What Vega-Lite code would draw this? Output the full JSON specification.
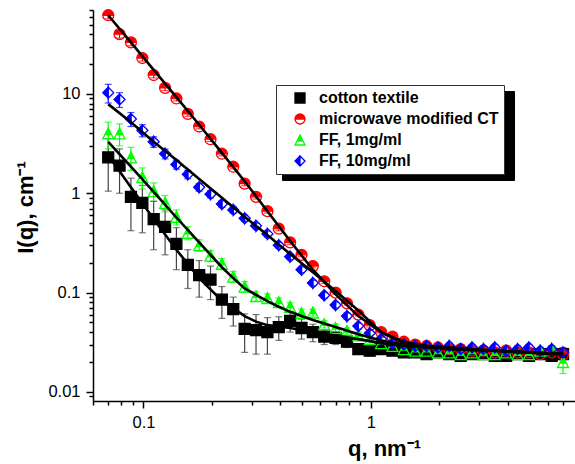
{
  "$schema": "https://vega.github.io/schema/vega-lite/v6.json",
  "width": 482,
  "height": 391,
  "autosize": {"type": "none"},
  "padding": {"left": 93, "top": 10, "right": 0, "bottom": 63},
  "background": "white",
  "config": {
    "view": {"stroke": null},
    "font": "Liberation Sans",
    "axis": {
      "grid": false,
      "domainColor": "black",
      "domainWidth": 1.5,
      "tickColor": "black",
      "tickWidth": 1.5,
      "labelFont": "Liberation Sans",
      "labelFontSize": 16.5,
      "labelColor": "black",
      "titleFont": "Liberation Sans",
      "titleFontSize": 22,
      "titleFontWeight": "bold",
      "titleColor": "black",
      "labelOverlap": false,
      "labelFlush": false
    },
    "legend": {
      "labelFont": "Liberation Sans",
      "labelFontSize": 16,
      "labelFontWeight": "bold",
      "labelColor": "black",
      "labelLimit": 400,
      "symbolSize": 100,
      "symbolStrokeWidth": 1.3,
      "padding": 5,
      "rowPadding": 5,
      "symbolOffset": 11,
      "labelOffset": 11,
      "cornerRadius": 0
    }
  },
  "datasets": {
    "pts": [
      {"s":"cotton textile","q":0.07,"I":2.3,"e":1.25},
      {"s":"cotton textile","q":0.0785,"I":1.9,"e":0.9},
      {"s":"cotton textile","q":0.0881,"I":0.92,"e":0.5},
      {"s":"cotton textile","q":0.0989,"I":0.8,"e":0.4},
      {"s":"cotton textile","q":0.1109,"I":0.55,"e":0.28},
      {"s":"cotton textile","q":0.1245,"I":0.46,"e":0.22},
      {"s":"cotton textile","q":0.1396,"I":0.31,"e":0.14},
      {"s":"cotton textile","q":0.1567,"I":0.19,"e":0.08},
      {"s":"cotton textile","q":0.1758,"I":0.15,"e":0.06},
      {"s":"cotton textile","q":0.1972,"I":0.135,"e":0.05},
      {"s":"cotton textile","q":0.2213,"I":0.085,"e":0.03},
      {"s":"cotton textile","q":0.2483,"I":0.068,"e":0.022},
      {"s":"cotton textile","q":0.2786,"I":0.043,"e":0.018},
      {"s":"cotton textile","q":0.3126,"I":0.042,"e":0.018},
      {"s":"cotton textile","q":0.3508,"I":0.04,"e":0.016},
      {"s":"cotton textile","q":0.3936,"I":0.045,"e":0.012},
      {"s":"cotton textile","q":0.4416,"I":0.052,"e":0.012},
      {"s":"cotton textile","q":0.4955,"I":0.044,"e":0.01},
      {"s":"cotton textile","q":0.5559,"I":0.04,"e":0.008},
      {"s":"cotton textile","q":0.6237,"I":0.036,"e":0.006},
      {"s":"cotton textile","q":0.6998,"I":0.035,"e":0.005},
      {"s":"cotton textile","q":0.7852,"I":0.032,"e":0.004},
      {"s":"cotton textile","q":0.881,"I":0.027,"e":0.003},
      {"s":"cotton textile","q":0.9886,"I":0.026,"e":0.003},
      {"s":"cotton textile","q":1.1092,"I":0.027,"e":0.003},
      {"s":"cotton textile","q":1.2445,"I":0.026,"e":0.002},
      {"s":"cotton textile","q":1.3964,"I":0.025,"e":0.002},
      {"s":"cotton textile","q":1.5668,"I":0.025,"e":0.002},
      {"s":"cotton textile","q":1.7579,"I":0.024,"e":0.002},
      {"s":"cotton textile","q":1.9724,"I":0.025,"e":0.002},
      {"s":"cotton textile","q":2.2131,"I":0.024,"e":0.002},
      {"s":"cotton textile","q":2.4831,"I":0.023,"e":0.002},
      {"s":"cotton textile","q":2.7861,"I":0.024,"e":0.002},
      {"s":"cotton textile","q":3.1261,"I":0.024,"e":0.002},
      {"s":"cotton textile","q":3.5075,"I":0.023,"e":0.002},
      {"s":"cotton textile","q":3.9355,"I":0.023,"e":0.002},
      {"s":"cotton textile","q":4.4157,"I":0.024,"e":0.002},
      {"s":"cotton textile","q":4.9545,"I":0.023,"e":0.002},
      {"s":"cotton textile","q":5.559,"I":0.024,"e":0.002},
      {"s":"cotton textile","q":6.2373,"I":0.023,"e":0.002},
      {"s":"cotton textile","q":6.9984,"I":0.024,"e":0.002},
      {"s":"microwave modified CT","q":0.07,"I":62,"e":5},
      {"s":"microwave modified CT","q":0.0785,"I":40,"e":3.5},
      {"s":"microwave modified CT","q":0.0881,"I":33,"e":2.5},
      {"s":"microwave modified CT","q":0.0989,"I":23,"e":1.6},
      {"s":"microwave modified CT","q":0.1109,"I":15.5,"e":1.0},
      {"s":"microwave modified CT","q":0.1245,"I":11.5,"e":0.7},
      {"s":"microwave modified CT","q":0.1396,"I":9.0,"e":0.5},
      {"s":"microwave modified CT","q":0.1567,"I":6.3,"e":0.35},
      {"s":"microwave modified CT","q":0.1758,"I":4.7,"e":0.25},
      {"s":"microwave modified CT","q":0.1972,"I":3.5,"e":0.18},
      {"s":"microwave modified CT","q":0.2213,"I":2.5,"e":0.12},
      {"s":"microwave modified CT","q":0.2483,"I":1.85,"e":0.09},
      {"s":"microwave modified CT","q":0.2786,"I":1.25,"e":0.06},
      {"s":"microwave modified CT","q":0.3126,"I":0.92,"e":0.045},
      {"s":"microwave modified CT","q":0.3508,"I":0.66,"e":0.03},
      {"s":"microwave modified CT","q":0.3936,"I":0.44,"e":0.02},
      {"s":"microwave modified CT","q":0.4416,"I":0.32,"e":0.015},
      {"s":"microwave modified CT","q":0.4955,"I":0.24,"e":0.01},
      {"s":"microwave modified CT","q":0.5559,"I":0.185,"e":0.008},
      {"s":"microwave modified CT","q":0.6237,"I":0.13,"e":0.006},
      {"s":"microwave modified CT","q":0.6998,"I":0.1,"e":0.004},
      {"s":"microwave modified CT","q":0.7852,"I":0.078,"e":0.003},
      {"s":"microwave modified CT","q":0.881,"I":0.06,"e":0.002},
      {"s":"microwave modified CT","q":0.9886,"I":0.047,"e":0.002},
      {"s":"microwave modified CT","q":1.1092,"I":0.04,"e":0.0015},
      {"s":"microwave modified CT","q":1.2445,"I":0.036,"e":0.0015},
      {"s":"microwave modified CT","q":1.3964,"I":0.032,"e":0.0015},
      {"s":"microwave modified CT","q":1.5668,"I":0.03,"e":0.0015},
      {"s":"microwave modified CT","q":1.7579,"I":0.029,"e":0.0015},
      {"s":"microwave modified CT","q":1.9724,"I":0.028,"e":0.0015},
      {"s":"microwave modified CT","q":2.2131,"I":0.027,"e":0.0015},
      {"s":"microwave modified CT","q":2.4831,"I":0.027,"e":0.0015},
      {"s":"microwave modified CT","q":2.7861,"I":0.026,"e":0.0015},
      {"s":"microwave modified CT","q":3.1261,"I":0.026,"e":0.0015},
      {"s":"microwave modified CT","q":3.5075,"I":0.025,"e":0.0015},
      {"s":"microwave modified CT","q":3.9355,"I":0.026,"e":0.0015},
      {"s":"microwave modified CT","q":4.4157,"I":0.025,"e":0.0015},
      {"s":"microwave modified CT","q":4.9545,"I":0.025,"e":0.0015},
      {"s":"microwave modified CT","q":5.559,"I":0.024,"e":0.0015},
      {"s":"microwave modified CT","q":6.2373,"I":0.025,"e":0.0015},
      {"s":"microwave modified CT","q":6.9984,"I":0.024,"e":0.003},
      {"s":"FF, 1mg/ml","q":0.07,"I":4.0,"e":1.2},
      {"s":"FF, 1mg/ml","q":0.0785,"I":4.0,"e":1.0},
      {"s":"FF, 1mg/ml","q":0.0881,"I":2.3,"e":0.6},
      {"s":"FF, 1mg/ml","q":0.0989,"I":1.45,"e":0.35},
      {"s":"FF, 1mg/ml","q":0.1109,"I":1.05,"e":0.22},
      {"s":"FF, 1mg/ml","q":0.1245,"I":0.8,"e":0.15},
      {"s":"FF, 1mg/ml","q":0.1396,"I":0.58,"e":0.1},
      {"s":"FF, 1mg/ml","q":0.1567,"I":0.4,"e":0.06},
      {"s":"FF, 1mg/ml","q":0.1758,"I":0.3,"e":0.04},
      {"s":"FF, 1mg/ml","q":0.1972,"I":0.235,"e":0.03},
      {"s":"FF, 1mg/ml","q":0.2213,"I":0.195,"e":0.025},
      {"s":"FF, 1mg/ml","q":0.2483,"I":0.145,"e":0.018},
      {"s":"FF, 1mg/ml","q":0.2786,"I":0.115,"e":0.014},
      {"s":"FF, 1mg/ml","q":0.3126,"I":0.092,"e":0.01},
      {"s":"FF, 1mg/ml","q":0.3508,"I":0.088,"e":0.009},
      {"s":"FF, 1mg/ml","q":0.3936,"I":0.08,"e":0.008},
      {"s":"FF, 1mg/ml","q":0.4416,"I":0.072,"e":0.007},
      {"s":"FF, 1mg/ml","q":0.4955,"I":0.062,"e":0.006},
      {"s":"FF, 1mg/ml","q":0.5559,"I":0.063,"e":0.005},
      {"s":"FF, 1mg/ml","q":0.6237,"I":0.048,"e":0.004},
      {"s":"FF, 1mg/ml","q":0.6998,"I":0.044,"e":0.004},
      {"s":"FF, 1mg/ml","q":0.7852,"I":0.041,"e":0.003},
      {"s":"FF, 1mg/ml","q":0.881,"I":0.037,"e":0.003},
      {"s":"FF, 1mg/ml","q":0.9886,"I":0.034,"e":0.003},
      {"s":"FF, 1mg/ml","q":1.1092,"I":0.031,"e":0.002},
      {"s":"FF, 1mg/ml","q":1.2445,"I":0.029,"e":0.002},
      {"s":"FF, 1mg/ml","q":1.3964,"I":0.027,"e":0.002},
      {"s":"FF, 1mg/ml","q":1.5668,"I":0.026,"e":0.002},
      {"s":"FF, 1mg/ml","q":1.7579,"I":0.026,"e":0.002},
      {"s":"FF, 1mg/ml","q":1.9724,"I":0.025,"e":0.002},
      {"s":"FF, 1mg/ml","q":2.2131,"I":0.025,"e":0.002},
      {"s":"FF, 1mg/ml","q":2.4831,"I":0.024,"e":0.002},
      {"s":"FF, 1mg/ml","q":2.7861,"I":0.025,"e":0.002},
      {"s":"FF, 1mg/ml","q":3.1261,"I":0.024,"e":0.002},
      {"s":"FF, 1mg/ml","q":3.5075,"I":0.024,"e":0.002},
      {"s":"FF, 1mg/ml","q":3.9355,"I":0.025,"e":0.002},
      {"s":"FF, 1mg/ml","q":4.4157,"I":0.024,"e":0.002},
      {"s":"FF, 1mg/ml","q":4.9545,"I":0.024,"e":0.002},
      {"s":"FF, 1mg/ml","q":5.559,"I":0.026,"e":0.002},
      {"s":"FF, 1mg/ml","q":6.2373,"I":0.027,"e":0.002},
      {"s":"FF, 1mg/ml","q":6.9984,"I":0.02,"e":0.0047},
      {"s":"FF, 10mg/ml","q":0.07,"I":10.3,"e":2.2},
      {"s":"FF, 10mg/ml","q":0.0785,"I":8.8,"e":1.5},
      {"s":"FF, 10mg/ml","q":0.0881,"I":5.6,"e":0.9},
      {"s":"FF, 10mg/ml","q":0.0989,"I":4.3,"e":0.6},
      {"s":"FF, 10mg/ml","q":0.1109,"I":3.3,"e":0.4},
      {"s":"FF, 10mg/ml","q":0.1245,"I":2.5,"e":0.28},
      {"s":"FF, 10mg/ml","q":0.1396,"I":1.95,"e":0.2},
      {"s":"FF, 10mg/ml","q":0.1567,"I":1.55,"e":0.15},
      {"s":"FF, 10mg/ml","q":0.1758,"I":1.15,"e":0.1},
      {"s":"FF, 10mg/ml","q":0.1972,"I":0.98,"e":0.08},
      {"s":"FF, 10mg/ml","q":0.2213,"I":0.78,"e":0.06},
      {"s":"FF, 10mg/ml","q":0.2483,"I":0.68,"e":0.05},
      {"s":"FF, 10mg/ml","q":0.2786,"I":0.56,"e":0.04},
      {"s":"FF, 10mg/ml","q":0.3126,"I":0.47,"e":0.03},
      {"s":"FF, 10mg/ml","q":0.3508,"I":0.39,"e":0.025},
      {"s":"FF, 10mg/ml","q":0.3936,"I":0.3,"e":0.02},
      {"s":"FF, 10mg/ml","q":0.4416,"I":0.23,"e":0.015},
      {"s":"FF, 10mg/ml","q":0.4955,"I":0.17,"e":0.011},
      {"s":"FF, 10mg/ml","q":0.5559,"I":0.125,"e":0.008},
      {"s":"FF, 10mg/ml","q":0.6237,"I":0.094,"e":0.006},
      {"s":"FF, 10mg/ml","q":0.6998,"I":0.075,"e":0.005},
      {"s":"FF, 10mg/ml","q":0.7852,"I":0.058,"e":0.004},
      {"s":"FF, 10mg/ml","q":0.881,"I":0.046,"e":0.003},
      {"s":"FF, 10mg/ml","q":0.9886,"I":0.039,"e":0.003},
      {"s":"FF, 10mg/ml","q":1.1092,"I":0.034,"e":0.002},
      {"s":"FF, 10mg/ml","q":1.2445,"I":0.031,"e":0.002},
      {"s":"FF, 10mg/ml","q":1.3964,"I":0.03,"e":0.002},
      {"s":"FF, 10mg/ml","q":1.5668,"I":0.029,"e":0.002},
      {"s":"FF, 10mg/ml","q":1.7579,"I":0.029,"e":0.002},
      {"s":"FF, 10mg/ml","q":1.9724,"I":0.028,"e":0.002},
      {"s":"FF, 10mg/ml","q":2.2131,"I":0.029,"e":0.002},
      {"s":"FF, 10mg/ml","q":2.4831,"I":0.027,"e":0.002},
      {"s":"FF, 10mg/ml","q":2.7861,"I":0.028,"e":0.002},
      {"s":"FF, 10mg/ml","q":3.1261,"I":0.027,"e":0.002},
      {"s":"FF, 10mg/ml","q":3.5075,"I":0.028,"e":0.002},
      {"s":"FF, 10mg/ml","q":3.9355,"I":0.026,"e":0.002},
      {"s":"FF, 10mg/ml","q":4.4157,"I":0.027,"e":0.002},
      {"s":"FF, 10mg/ml","q":4.9545,"I":0.028,"e":0.002},
      {"s":"FF, 10mg/ml","q":5.559,"I":0.026,"e":0.002},
      {"s":"FF, 10mg/ml","q":6.2373,"I":0.027,"e":0.002},
      {"s":"FF, 10mg/ml","q":6.9984,"I":0.025,"e":0.003}
    ],
    "fit": [
      {"f":"cotton textile","q":0.07,"I":2.4},
      {"f":"cotton textile","q":0.0881,"I":1.15},
      {"f":"cotton textile","q":0.1109,"I":0.55},
      {"f":"cotton textile","q":0.1396,"I":0.27},
      {"f":"cotton textile","q":0.1758,"I":0.14},
      {"f":"cotton textile","q":0.2213,"I":0.083},
      {"f":"cotton textile","q":0.2483,"I":0.07},
      {"f":"cotton textile","q":0.2786,"I":0.058},
      {"f":"cotton textile","q":0.3126,"I":0.051},
      {"f":"cotton textile","q":0.3508,"I":0.047},
      {"f":"cotton textile","q":0.4416,"I":0.044},
      {"f":"cotton textile","q":0.5559,"I":0.04},
      {"f":"cotton textile","q":0.6998,"I":0.037},
      {"f":"cotton textile","q":0.881,"I":0.034},
      {"f":"cotton textile","q":1.1092,"I":0.031},
      {"f":"cotton textile","q":1.3964,"I":0.029},
      {"f":"cotton textile","q":2.2131,"I":0.027},
      {"f":"cotton textile","q":3.5075,"I":0.026},
      {"f":"cotton textile","q":6.9984,"I":0.024},
      {"f":"microwave modified CT","q":0.07,"I":62},
      {"f":"microwave modified CT","q":0.0881,"I":33},
      {"f":"microwave modified CT","q":0.1109,"I":17.5},
      {"f":"microwave modified CT","q":0.1396,"I":9.3},
      {"f":"microwave modified CT","q":0.1758,"I":4.9},
      {"f":"microwave modified CT","q":0.2213,"I":2.55},
      {"f":"microwave modified CT","q":0.2786,"I":1.32},
      {"f":"microwave modified CT","q":0.3508,"I":0.66},
      {"f":"microwave modified CT","q":0.4416,"I":0.33},
      {"f":"microwave modified CT","q":0.5559,"I":0.17},
      {"f":"microwave modified CT","q":0.6998,"I":0.096},
      {"f":"microwave modified CT","q":0.881,"I":0.058},
      {"f":"microwave modified CT","q":1.1092,"I":0.04},
      {"f":"microwave modified CT","q":1.3964,"I":0.032},
      {"f":"microwave modified CT","q":1.7579,"I":0.029},
      {"f":"microwave modified CT","q":2.2131,"I":0.027},
      {"f":"microwave modified CT","q":3.5075,"I":0.026},
      {"f":"microwave modified CT","q":6.9984,"I":0.024},
      {"f":"FF, 1mg/ml","q":0.07,"I":3.3},
      {"f":"FF, 1mg/ml","q":0.0881,"I":1.85},
      {"f":"FF, 1mg/ml","q":0.1109,"I":1.03},
      {"f":"FF, 1mg/ml","q":0.1396,"I":0.57},
      {"f":"FF, 1mg/ml","q":0.1758,"I":0.32},
      {"f":"FF, 1mg/ml","q":0.2213,"I":0.18},
      {"f":"FF, 1mg/ml","q":0.2483,"I":0.14},
      {"f":"FF, 1mg/ml","q":0.2786,"I":0.11},
      {"f":"FF, 1mg/ml","q":0.3126,"I":0.095},
      {"f":"FF, 1mg/ml","q":0.3508,"I":0.082},
      {"f":"FF, 1mg/ml","q":0.3936,"I":0.072},
      {"f":"FF, 1mg/ml","q":0.4416,"I":0.064},
      {"f":"FF, 1mg/ml","q":0.4955,"I":0.058},
      {"f":"FF, 1mg/ml","q":0.5559,"I":0.053},
      {"f":"FF, 1mg/ml","q":0.6998,"I":0.045},
      {"f":"FF, 1mg/ml","q":0.881,"I":0.038},
      {"f":"FF, 1mg/ml","q":1.1092,"I":0.033},
      {"f":"FF, 1mg/ml","q":1.3964,"I":0.03},
      {"f":"FF, 1mg/ml","q":2.2131,"I":0.028},
      {"f":"FF, 1mg/ml","q":3.5075,"I":0.026},
      {"f":"FF, 1mg/ml","q":6.9984,"I":0.024},
      {"f":"FF, 10mg/ml","q":0.07,"I":7.9},
      {"f":"FF, 10mg/ml","q":0.0881,"I":5.2},
      {"f":"FF, 10mg/ml","q":0.1109,"I":3.3},
      {"f":"FF, 10mg/ml","q":0.1396,"I":2.16},
      {"f":"FF, 10mg/ml","q":0.1758,"I":1.39},
      {"f":"FF, 10mg/ml","q":0.2213,"I":0.9},
      {"f":"FF, 10mg/ml","q":0.2786,"I":0.58},
      {"f":"FF, 10mg/ml","q":0.3508,"I":0.38},
      {"f":"FF, 10mg/ml","q":0.4416,"I":0.245},
      {"f":"FF, 10mg/ml","q":0.5559,"I":0.16},
      {"f":"FF, 10mg/ml","q":0.6998,"I":0.104},
      {"f":"FF, 10mg/ml","q":0.881,"I":0.066},
      {"f":"FF, 10mg/ml","q":1.1092,"I":0.04},
      {"f":"FF, 10mg/ml","q":1.3964,"I":0.031},
      {"f":"FF, 10mg/ml","q":1.7579,"I":0.029},
      {"f":"FF, 10mg/ml","q":2.2131,"I":0.028},
      {"f":"FF, 10mg/ml","q":3.5075,"I":0.026},
      {"f":"FF, 10mg/ml","q":6.9984,"I":0.024}
    ]
  },
  "encoding": {
    "x": {
      "field": "q",
      "type": "quantitative",
      "scale": {"type": "log", "domain": [0.06, 7.9], "nice": false},
      "axis": {
        "title": "q, nm⁻¹",
        "values": [0.06,0.07,0.08,0.09,0.1,0.2,0.3,0.4,0.5,0.6,0.7,0.8,0.9,1,2,3,4,5,6,7],
        "format": "~g",
        "labelExpr": "datum.value == 0.1 || datum.value == 1 ? datum.label : ''",
        "tickSize": {"condition": {"test": "datum.value == 0.1 || datum.value == 1", "value": 7}, "value": 4},
        "labelPadding": 6,
        "titleX": 291,
        "titleY": 54,
        "titleAlign": "center",
        "titleBaseline": "alphabetic"
      }
    },
    "y": {
      "field": "I",
      "type": "quantitative",
      "scale": {"type": "log", "domain": [0.0081, 70], "nice": false},
      "axis": {
        "title": "I(q), cm⁻¹",
        "values": [0.009,0.01,0.02,0.03,0.04,0.05,0.06,0.07,0.08,0.09,0.1,0.2,0.3,0.4,0.5,0.6,0.7,0.8,0.9,1,2,3,4,5,6,7,8,9,10,20,30,40,50,60,70],
        "format": "~g",
        "labelExpr": "indexof([0.01,0.1,1,10], datum.value) >= 0 ? datum.label : ''",
        "tickSize": {"condition": {"test": "indexof([0.01,0.1,1,10], datum.value) >= 0", "value": 7}, "value": 4},
        "labelPadding": 6,
        "titleX": -61,
        "titleY": 197,
        "titleAngle": -90,
        "titleAlign": "center",
        "titleBaseline": "alphabetic"
      }
    }
  },
  "layer": [
    {
      "data": {"name": "pts"},
      "mark": {"type": "errorbar", "ticks": {"size": 7}, "thickness": 1.2},
      "encoding": {
        "yError": {"field": "e"},
        "color": {
          "field": "s",
          "type": "nominal",
          "scale": {"domain": ["FF, 1mg/ml","FF, 10mg/ml","cotton textile","microwave modified CT"], "range": ["#00ff00","#0000ff","#444444","#ff0000"]},
          "legend": null
        }
      }
    },
    {
      "data": {"name": "pts"},
      "mark": {"type": "point", "filled": true, "size": 120, "strokeWidth": 1.3, "opacity": 1},
      "encoding": {
        "shape": {
          "field": "s",
          "type": "nominal",
          "scale": {
            "domain": ["cotton textile","microwave modified CT","FF, 1mg/ml","FF, 10mg/ml"],
            "range": ["square",
              "M-1,0A1,1,0,1,1,1,0A1,1,0,1,1,-1,0ZM-1,0A1,1,0,0,0,1,0Z",
              "M0,-1L1,1L-1,1ZM-0.6,0.2L-1,1L1,1L0.6,0.2Z",
              "M0,-1L1,0L0,1L-1,0ZM0,-1L0,1L1,0Z"]
          },
          "legend": {
            "title": null,
            "orient": "none",
            "direction": "vertical",
            "legendX": 183,
            "legendY": 75,
            "fillColor": "white",
            "strokeColor": "#333333",
            "zindex": 1
          }
        },
        "fill": {
          "field": "s",
          "type": "nominal",
          "scale": {"domain": ["cotton textile","microwave modified CT","FF, 1mg/ml","FF, 10mg/ml"], "range": ["#000000","#ff0000","#00ff00","#0000ff"]},
          "legend": {
            "title": null,
            "orient": "none",
            "direction": "vertical",
            "legendX": 183,
            "legendY": 75,
            "fillColor": "white",
            "strokeColor": "#333333",
            "zindex": 1
          }
        },
        "stroke": {
          "field": "s",
          "type": "nominal",
          "scale": {"domain": ["cotton textile","microwave modified CT","FF, 1mg/ml","FF, 10mg/ml"], "range": ["#000000","#ff0000","#00ff00","#0000ff"]},
          "legend": {
            "title": null,
            "orient": "none",
            "direction": "vertical",
            "legendX": 183,
            "legendY": 75,
            "fillColor": "white",
            "strokeColor": "#333333",
            "zindex": 1
          }
        }
      }
    },
    {
      "data": {"name": "fit"},
      "mark": {"type": "line", "color": "black", "strokeWidth": 2.6},
      "encoding": {
        "opacity": {
          "field": "f",
          "type": "nominal",
          "scale": {"range": [1, 1]},
          "legend": {
            "title": null,
            "orient": "none",
            "direction": "vertical",
            "legendX": 189,
            "legendY": 81,
            "fillColor": "black",
            "strokeColor": "black",
            "symbolType": "square",
            "symbolSize": 100,
            "symbolOffset": 0,
            "labelOffset": 206,
            "labelExpr": "''",
            "symbolFillColor": "black",
            "symbolStrokeColor": "black",
            "labelColor": "black",
            "zindex": 0
          }
        }
      }
    }
  ]
}
